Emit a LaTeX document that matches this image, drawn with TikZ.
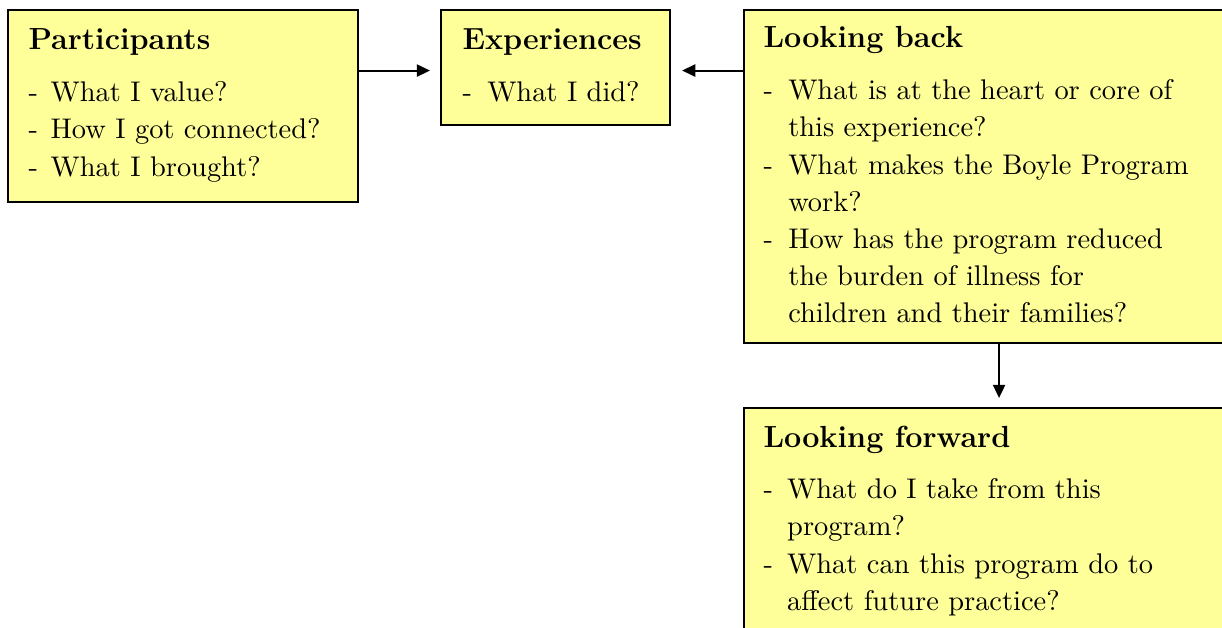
\documentclass[tikz,border=0pt]{standalone}
\usepackage{fontspec}
\usetikzlibrary{arrows.meta,positioning}
\definecolor{noteyellow}{RGB}{255,255,153}
\newcommand{\pxu}{0.38pt}
\newcommand{\boxhead}[1]{\multicolumn{2}{@{}l@{}}{\fontsize{11.6}{14}\selectfont\bfseries #1}\\[5.6pt]}
\tikzset{
  note/.style={draw, line width=0.8pt, fill=noteyellow, anchor=north west, inner sep=0pt},
  notetext/.style={anchor=base west, inner sep=0pt, font=\fontsize{10.8}{14.1}\selectfont},
  link/.style={line width=0.75pt, -{Triangle[length=5pt,width=4.6pt]}}
}

\begin{document}
\begin{tikzpicture}[x=0.38pt, y=-0.38pt]
\useasboundingbox (0,0) rectangle (1222,628);
\clip (0,0) rectangle (1222,628);

% boxes
\node[note, minimum width=350*\pxu, minimum height=192*\pxu] (part) at (7,9) {};
\node[note, minimum width=229*\pxu, minimum height=115*\pxu] (exp) at (440,9) {};
\node[note, minimum width=510*\pxu, minimum height=333*\pxu] (back) at (743,9) {};
\node[note, minimum width=510*\pxu, minimum height=260*\pxu] (fwd) at (743,407) {};

% texts
\node[notetext] (partT) at (28,50) {\begin{tabular}[t]{@{}p{8.4pt}@{}l@{}}
  \boxhead{Participants}
  - & What I value?\\
  - & How I got connected?\\
  - & What I brought?
\end{tabular}};
\node[notetext] (expT) at (462,50) {\begin{tabular}[t]{@{}p{9.4pt}@{}l@{}}
  \boxhead{Experiences}
  - & What I did?
\end{tabular}};
\node[notetext] (backT) at (763,48) {\begin{tabular}[t]{@{}p{9.4pt}@{}l@{}}
  \boxhead{Looking back}
  - & What is at the heart or core of\\
    & this experience?\\
  - & What makes the Boyle Program\\
    & work?\\
  - & How has the program reduced\\
    & the burden of illness for\\
    & children and their families?
\end{tabular}};
\node[notetext] (fwdT) at (763,447) {\begin{tabular}[t]{@{}p{9pt}@{}l@{}}
  \boxhead{Looking forward}
  - & What do I take from this\\
    & program?\\
  - & What can this program do to\\
    & affect future practice?
\end{tabular}};

% connectors
\draw[link] ([yshift=-3*\pxu]part.east |- exp.west) -- ([xshift=-10*\pxu,yshift=-3*\pxu]exp.west);
\draw[link] ([yshift=-3*\pxu]back.west |- exp.east) -- ([xshift=11*\pxu,yshift=-3*\pxu]exp.east);
\draw[link] (back.south) -- ([yshift=9*\pxu]fwd.north);
\end{tikzpicture}
\end{document}
